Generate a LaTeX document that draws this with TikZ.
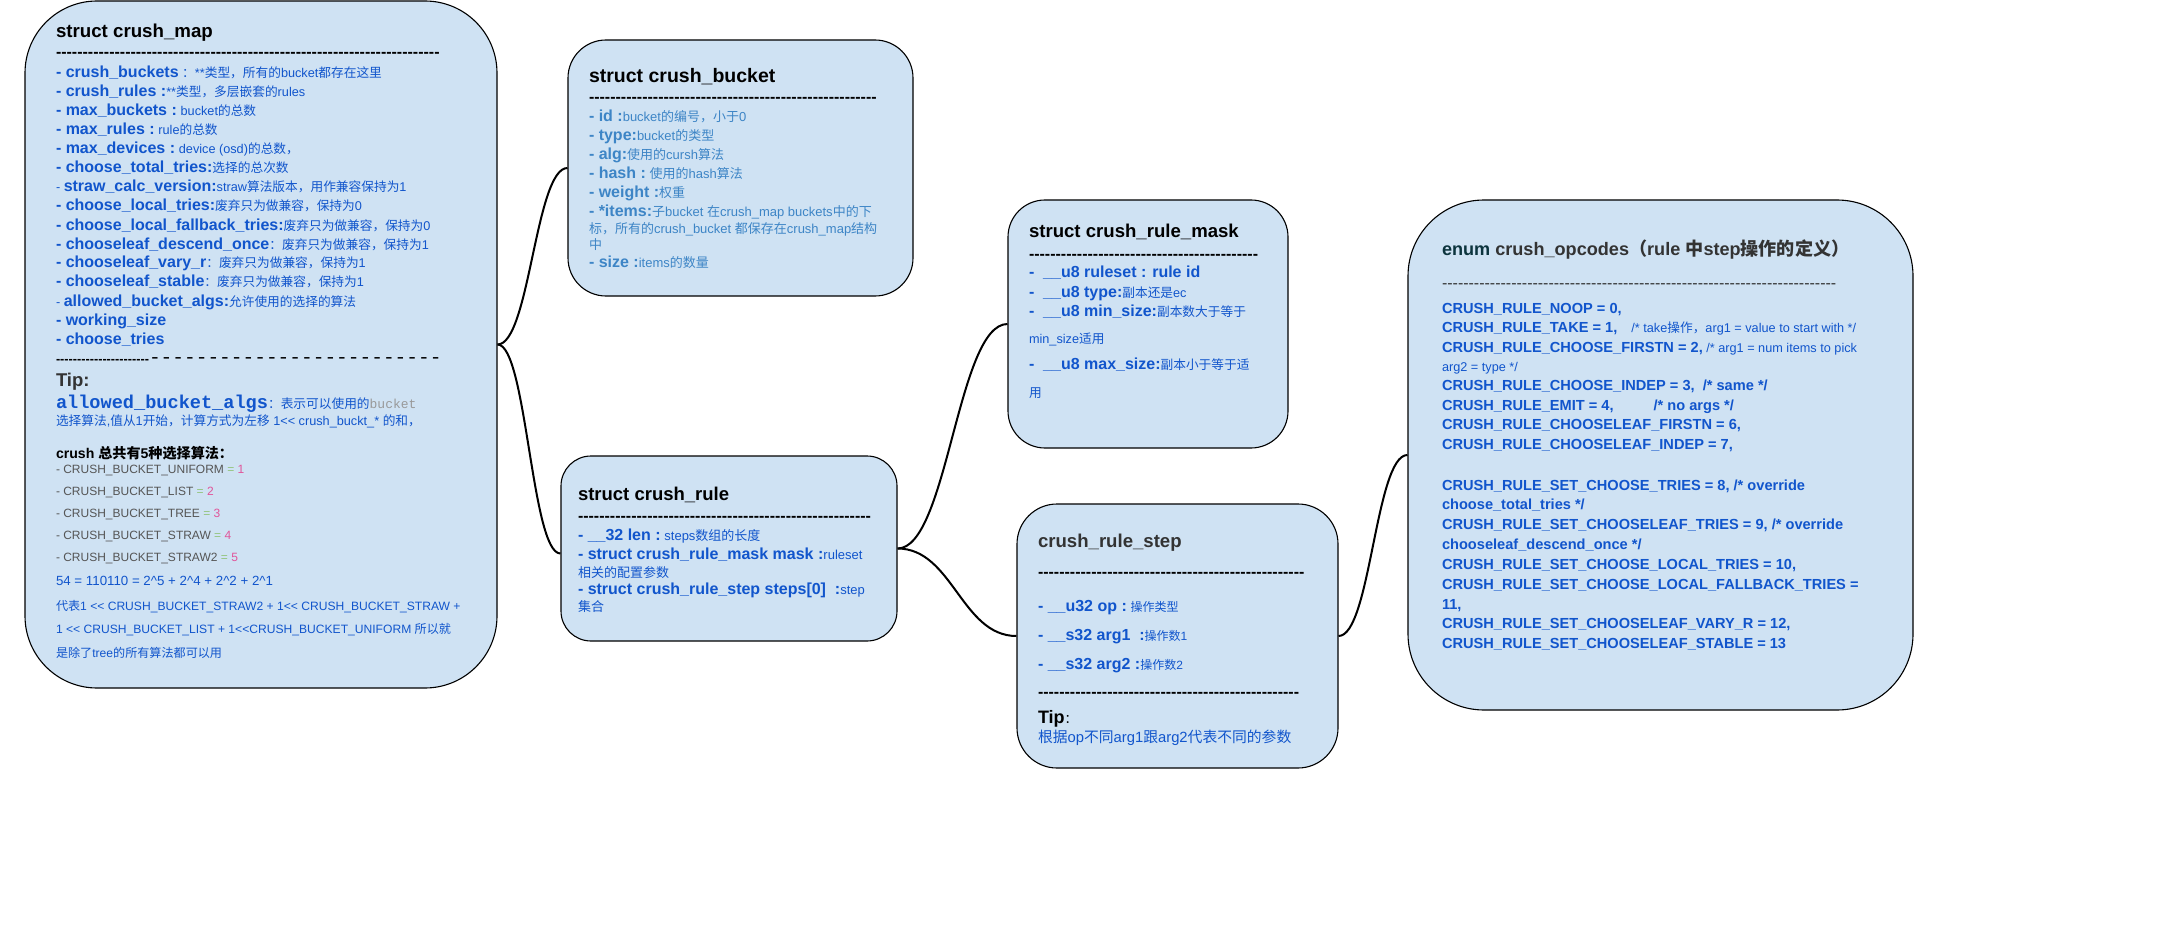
\documentclass[tikz,border=0pt]{standalone}
\usepackage{fontspec}
\newfontfamily\lat{Liberation Sans}[NFSSFamily=latf]
\newfontfamily\mono{Liberation Mono}[NFSSFamily=monof]
\newfontfamily\cjk{Noto Sans CJK SC}[NFSSFamily=cjkf]

% Chinese characters and full-width punctuation switch to the CJK face by themselves
\XeTeXinterchartokenstate=1
\newXeTeXintercharclass\CJKcls
\newcount\cjkc
\newcommand\setcjkrange[2]{%
  \cjkc=#1\relax
  \loop\XeTeXcharclass\cjkc=\CJKcls\relax
  \ifnum\cjkc<#2\relax\advance\cjkc by 1\relax\repeat}
\setcjkrange{"3000}{"303F}
\setcjkrange{"4E00}{"9FFF}
\setcjkrange{"FF00}{"FFEF}
\makeatletter
\def\cjk@fam{cjkf}
\def\cjk@saved{latf}
\def\cjk@on{\ifx\f@family\cjk@fam\else\edef\cjk@saved{\f@family}\fi
  \fontfamily{cjkf}\selectfont}
\def\cjk@off{\fontfamily{\cjk@saved}\selectfont}
\XeTeXinterchartoks 0 \CJKcls = {\cjk@on}
\XeTeXinterchartoks 4095 \CJKcls = {\cjk@on}
\XeTeXinterchartoks \CJKcls 0 = {\cjk@off}
\XeTeXinterchartoks \CJKcls 4095 = {\cjk@off}
\makeatother

\definecolor{boxfill}{HTML}{CFE2F3}
\definecolor{fblue}{HTML}{1155CC}
\definecolor{lblue}{HTML}{3D85C6}
\definecolor{dgray}{HTML}{333333}
\definecolor{igray}{HTML}{555555}
\definecolor{mgray}{HTML}{999999}
\definecolor{eqgreen}{HTML}{93C47D}
\definecolor{numpink}{HTML}{E0559A}
\definecolor{enumteal}{HTML}{0C343D}

\newcommand\fs[1]{\fontsize{#1}{#1}\selectfont}
\newcommand\nm[1]{{\bfseries\fs{16}#1}}
\newcommand\ds[2][12.7]{{\mdseries\fs{#1}#2}}
\newcommand\en[1]{{\bfseries\fs{14.6}#1}}
\newcommand\cm[1]{{\mdseries\fs{12.7}#1}}
\newcommand\dashes[1]{\foreach\dashidx in {1,...,#1}{-\kern0pt}}
\newcommand\shl{<\kern0pt<}
\newcommand\txtline[5]{\node[txt, text=#4] (#1) at (#2,#3) {#5};}

\tikzset{
  box/.style={draw=black, line width=1.1pt, fill=boxfill, inner sep=0pt},
  conn/.style={draw=black, line width=2pt},
  txt/.style={anchor=base west, inner sep=0pt, outer sep=0pt, font=\lat},
}

\begin{document}
\begin{tikzpicture}[x=1pt,y=-1pt]
\useasboundingbox (0,0) rectangle (2174,936);
\fill[white] (0,0) rectangle (2174,936);

% boxes
\node[box, rounded corners=72pt, minimum width=472pt, minimum height=687pt] (map) at (261,344.5) {};
\node[box, rounded corners=38pt, minimum width=345pt, minimum height=256pt] (bucket) at (740.5,168) {};
\node[box, rounded corners=30pt, minimum width=336pt, minimum height=185pt] (rule) at (729,548.5) {};
\node[box, rounded corners=37pt, minimum width=280pt, minimum height=248pt] (mask) at (1148,324) {};
\node[box, rounded corners=40pt, minimum width=321pt, minimum height=264pt] (step) at (1177.5,636) {};
\node[box, rounded corners=76pt, minimum width=505pt, minimum height=510pt] (enum) at (1660.5,455) {};

% connectors
\draw[conn] (map.east) .. controls +(32,0) and +(-32,0) .. (bucket.west);
\draw[conn] (map.east) .. controls +(29,0) and +(-29,0) .. ([yshift=-5pt]rule.west);
\draw[conn] (rule.east) .. controls +(50,0) and +(-50,0) .. (mask.west);
\draw[conn] (rule.east) .. controls +(55,0) and +(-55,0) .. (step.west);
\draw[conn] (step.east) .. controls +(32,0) and +(-32,0) .. (enum.west);

% struct crush_map
\txtline{mt}{56}{37.5}{black}{\bfseries\fs{18.7}struct crush\_map}
\txtline{md1}{56}{57.5}{black}{\bfseries\fs{16}\dashes{72}}
\txtline{m1}{56}{78}{fblue}{\nm{- crush\_buckets}\ds{ ：**类型，所有的bucket都存在这里}}
\txtline{m2}{56}{97}{fblue}{\nm{- crush\_rules :}\ds{**类型，多层嵌套的rules}}
\txtline{m3}{56}{116}{fblue}{\nm{- max\_buckets :} \ds{bucket的总数}}
\txtline{m4}{56}{135}{fblue}{\nm{- max\_rules :} \ds{rule的总数}}
\txtline{m5}{56}{154}{fblue}{\nm{- max\_devices :} \ds{device (osd)的总数，}}
\txtline{m6}{56}{173}{fblue}{\nm{- choose\_total\_tries:}\ds{选择的总次数}}
\txtline{m7}{56}{192}{fblue}{\ds{- }\nm{straw\_calc\_version:}\ds{straw算法版本，用作兼容保持为1}}
\txtline{m8}{56}{211}{fblue}{\nm{- choose\_local\_tries:}\ds{废弃只为做兼容，保持为0}}
\txtline{m9}{56}{230}{fblue}{\nm{- choose\_local\_fallback\_tries:}\ds{废弃只为做兼容，保持为0}}
\txtline{m10}{56}{249}{fblue}{\nm{- chooseleaf\_descend\_once}\ds{：废弃只为做兼容，保持为1}}
\txtline{m11}{56}{268}{fblue}{\nm{- chooseleaf\_vary\_r}\ds{：废弃只为做兼容，保持为1}}
\txtline{m12}{56}{287}{fblue}{\nm{- chooseleaf\_stable}\ds{：废弃只为做兼容，保持为1}}
\txtline{m13}{56}{306}{fblue}{\ds{- }\nm{allowed\_bucket\_algs:}\ds{允许使用的选择的算法}}
\txtline{m14}{56}{325}{fblue}{\nm{- working\_size}}
\txtline{m15}{56}{344}{fblue}{\nm{- choose\_tries}}
\txtline{md2}{56}{363}{black}{{\bfseries\fs{12.7}\dashes{22}}{\mono\fs{19.5}\dashes{25}}}
\txtline{mtip}{56}{386}{dgray}{\bfseries\fs{18.5}Tip:}
\txtline{mal}{56}{408}{fblue}{{\mono\bfseries\fs{18.6}allowed\_bucket\_algs}\ds{：表示可以使用的}{\mono\fs{13}\color{mgray}bucket}}
\txtline{mal2}{56}{425.5}{fblue}{\ds{选择算法,值从1开始，计算方式为左移 1\shl{} crush\_buckt\_* 的和，}}
\txtline{malg}{56}{458}{black}{\bfseries\fs{14.1}crush 总共有5种选择算法：}
\txtline{ma1}{56}{473}{igray}{\fs{12}- CRUSH\_BUCKET\_UNIFORM \textcolor{eqgreen}{=} \textcolor{numpink}{1}}
\txtline{ma2}{56}{495}{igray}{\fs{12}- CRUSH\_BUCKET\_LIST \textcolor{eqgreen}{=} \textcolor{numpink}{2}}
\txtline{ma3}{56}{517}{igray}{\fs{12}- CRUSH\_BUCKET\_TREE \textcolor{eqgreen}{=} \textcolor{numpink}{3}}
\txtline{ma4}{56}{539}{igray}{\fs{12}- CRUSH\_BUCKET\_STRAW \textcolor{eqgreen}{=} \textcolor{numpink}{4}}
\txtline{ma5}{56}{561}{igray}{\fs{12}- CRUSH\_BUCKET\_STRAW2 \textcolor{eqgreen}{=} \textcolor{numpink}{5}}
\txtline{msum}{56}{585}{fblue}{\fs{13.3}54 = 110110 = 2\textasciicircum 5 + 2\textasciicircum 4 + 2\textasciicircum 2 + 2\textasciicircum 1}
\txtline{mx1}{56}{610}{fblue}{\fs{12.1}代表1 \shl{} CRUSH\_BUCKET\_STRAW2 + 1\shl{} CRUSH\_BUCKET\_STRAW +}
\txtline{mx2}{56}{633}{fblue}{\fs{12.1}1 \shl{} CRUSH\_BUCKET\_LIST + 1\shl{}CRUSH\_BUCKET\_UNIFORM 所以就}
\txtline{mx3}{56}{657}{fblue}{\fs{12.1}是除了tree的所有算法都可以用}

% struct crush_bucket
\txtline{bt}{589}{83}{black}{\bfseries\fs{19.5}struct crush\_bucket}
\txtline{bd}{589}{102.5}{black}{\bfseries\fs{16}\dashes{54}}
\txtline{b1}{589}{121.3}{lblue}{\nm{- id :}\ds[13]{bucket的编号，小于0}}
\txtline{b2}{589}{140.3}{lblue}{\nm{- type:}\ds[13]{bucket的类型}}
\txtline{b3}{589}{159.3}{lblue}{\nm{- alg:}\ds[13]{使用的cursh算法}}
\txtline{b4}{589}{178.3}{lblue}{\nm{- hash :} \ds[13]{使用的hash算法}}
\txtline{b5}{589}{197.3}{lblue}{\nm{- weight :}\ds[13]{权重}}
\txtline{b6}{589}{216.3}{lblue}{\nm{- *items:}\ds[13]{子bucket 在crush\_map buckets中的下}}
\txtline{b7}{589}{233.5}{lblue}{\ds[13]{标，所有的crush\_bucket 都保存在crush\_map结构}}
\txtline{b8}{589}{249.5}{lblue}{\ds[13]{中}}
\txtline{b9}{589}{268}{lblue}{\nm{- size :}\ds[13]{items的数量}}

% struct crush_rule
\txtline{rt}{578}{500}{black}{\bfseries\fs{18.5}struct crush\_rule}
\txtline{rd}{578}{521.5}{black}{\bfseries\fs{16}\dashes{55}}
\txtline{r1}{578}{540.5}{fblue}{\nm{- \_\_32 len :} \ds[13]{steps数组的长度}}
\txtline{r2}{578}{559.5}{fblue}{\nm{- struct crush\_rule\_mask mask :}\ds[13]{ruleset}}
\txtline{r3}{578}{577}{fblue}{\ds[13]{相关的配置参数}}
\txtline{r4}{578}{594.5}{fblue}{\nm{- struct crush\_rule\_step steps[0]\ \ :}\ds[13]{step}}
\txtline{r5}{578}{611}{fblue}{\ds[13]{集合}}

% struct crush_rule_mask
\txtline{kt}{1029}{237}{black}{\bfseries\fs{18.6}struct crush\_rule\_mask}
\txtline{kd}{1029}{259.5}{black}{\bfseries\fs{16}\dashes{43}}
\txtline{k1}{1029}{277.5}{fblue}{\nm{-\ \ \_\_u8 ruleset : rule id}}
\txtline{k2}{1029}{297.5}{fblue}{\nm{-\ \ \_\_u8 type:}\ds{副本还是ec}}
\txtline{k3}{1029}{316.5}{fblue}{\nm{-\ \ \_\_u8 min\_size:}\ds{副本数大于等于}}
\txtline{k4}{1029}{343.5}{fblue}{\ds{min\_size适用}}
\txtline{k5}{1029}{369.5}{fblue}{\nm{-\ \ \_\_u8 max\_size:}\ds{副本小于等于适}}
\txtline{k6}{1029}{397}{fblue}{\ds{用}}

% crush_rule_step
\txtline{st}{1038}{547}{dgray}{\bfseries\fs{18.6}crush\_rule\_step}
\txtline{sd1}{1038}{577.5}{black}{\bfseries\fs{16}\dashes{50}}
\txtline{s1}{1038}{611.5}{fblue}{\nm{- \_\_u32 op :} \ds[12]{操作类型}}
\txtline{s2}{1038}{640.5}{fblue}{\nm{- \_\_s32 arg1\ \ :}\ds[12]{操作数1}}
\txtline{s3}{1038}{669.5}{fblue}{\nm{- \_\_s32 arg2 :}\ds[12]{操作数2}}
\txtline{sd2}{1038}{697.5}{black}{\bfseries\fs{16}\dashes{49}}
\txtline{stip}{1038}{723}{black}{{\bfseries\fs{18}Tip}\ds{：}}
\txtline{s4}{1038}{742.5}{fblue}{\fs{14.8}根据op不同arg1跟arg2代表不同的参数}

% enum crush_opcodes
\txtline{et}{1442}{255}{dgray}{\bfseries\fs{18.1}\textcolor{enumteal}{enum} crush\_opcodes（rule 中step操作的定义）}
\txtline{ed}{1442}{288.5}{dgray}{\fs{16}\dashes{74}}
\txtline{e1}{1442}{313}{fblue}{\en{CRUSH\_RULE\_NOOP = 0,}}
\txtline{e2}{1442}{332.5}{fblue}{\en{CRUSH\_RULE\_TAKE = 1,}\hspace{14pt}\cm{/* take操作，arg1 = value to start with */}}
\txtline{e3}{1442}{352}{fblue}{\en{CRUSH\_RULE\_CHOOSE\_FIRSTN = 2,}\cm{ /* arg1 = num items to pick}}
\txtline{e4}{1442}{371.5}{fblue}{\cm{arg2 = type */}}
\txtline{e5}{1442}{390.5}{fblue}{\en{CRUSH\_RULE\_CHOOSE\_INDEP = 3,\ \ /* same */}}
\txtline{e6}{1442}{410}{fblue}{\en{CRUSH\_RULE\_EMIT = 4,}\hspace{40pt}\en{/* no args */}}
\txtline{e7}{1442}{429.5}{fblue}{\en{CRUSH\_RULE\_CHOOSELEAF\_FIRSTN = 6,}}
\txtline{e8}{1442}{449}{fblue}{\en{CRUSH\_RULE\_CHOOSELEAF\_INDEP = 7,}}
\txtline{e9}{1442}{490}{fblue}{\en{CRUSH\_RULE\_SET\_CHOOSE\_TRIES = 8, /* override}}
\txtline{e10}{1442}{509.5}{fblue}{\en{choose\_total\_tries */}}
\txtline{e11}{1442}{529}{fblue}{\en{CRUSH\_RULE\_SET\_CHOOSELEAF\_TRIES = 9, /* override}}
\txtline{e12}{1442}{549}{fblue}{\en{chooseleaf\_descend\_once */}}
\txtline{e13}{1442}{569}{fblue}{\en{CRUSH\_RULE\_SET\_CHOOSE\_LOCAL\_TRIES = 10,}}
\txtline{e14}{1442}{589}{fblue}{\en{CRUSH\_RULE\_SET\_CHOOSE\_LOCAL\_FALLBACK\_TRIES =}}
\txtline{e15}{1442}{609}{fblue}{\en{11,}}
\txtline{e16}{1442}{628.5}{fblue}{\en{CRUSH\_RULE\_SET\_CHOOSELEAF\_VARY\_R = 12,}}
\txtline{e17}{1442}{648}{fblue}{\en{CRUSH\_RULE\_SET\_CHOOSELEAF\_STABLE = 13}}
\end{tikzpicture}
\end{document}
